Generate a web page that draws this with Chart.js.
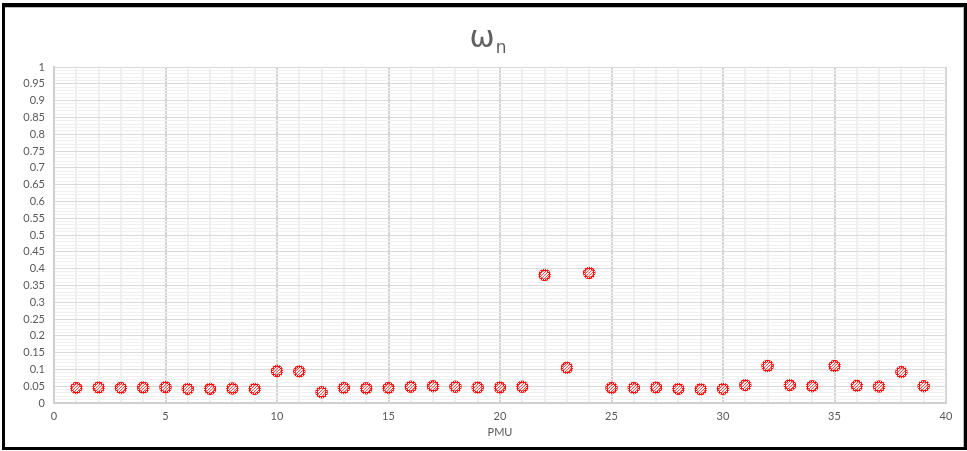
<!DOCTYPE html>
<html>
<head>
<meta charset="utf-8">
<script src="https://cdn.jsdelivr.net/npm/chart.js@4"></script>
<style>
html,body{margin:0;padding:0;background:#fff;}
#c{display:block;}
</style>
</head>
<body>
<canvas id="c" width="967" height="451"></canvas>
<script>
const pmu = [1,2,3,4,5,6,7,8,9,10,11,12,13,14,15,16,17,18,19,20,21,22,23,24,25,26,27,28,29,30,31,32,33,34,35,36,37,38,39];
const omegaN = [0.045,0.046,0.045,0.046,0.047,0.042,0.042,0.043,0.042,0.095,0.094,0.032,0.045,0.044,0.045,0.048,0.050,0.048,0.046,0.046,0.048,0.381,0.105,0.387,0.045,0.045,0.046,0.042,0.041,0.042,0.053,0.110,0.053,0.050,0.110,0.051,0.049,0.092,0.050];
const xTickLabels = ['0','5','10','15','20','25','30','35','40'];
const yTickLabels = ['0','0.05','0.1','0.15','0.2','0.25','0.3','0.35','0.4','0.45','0.5','0.55','0.6','0.65','0.7','0.75','0.8','0.85','0.9','0.95','1'];
const titleMain = 'ω';
const titleSub = 'n';
const xTitle = 'PMU';

const points = pmu.map((x, i) => ({x: x, y: omegaN[i]}));

// dotted red patterns for the hatched marker look
function makePattern(size, cells, color) {
  const pc = document.createElement('canvas');
  pc.width = size; pc.height = size;
  const p = pc.getContext('2d');
  p.fillStyle = color;
  cells.forEach(c => p.fillRect(c[0], c[1], 1, 1));
  return p.createPattern(pc, 'repeat');
}
const borderPat = makePattern(2, [[0,0],[1,1],[1,0]], 'rgba(255,0,0,0.95)');
const fillPat = makePattern(3, [[0,0],[2,1],[1,2]], 'rgba(255,40,40,0.8)');

const frame = {
  id: 'frame',
  beforeDraw(chart) {
    const ctx = chart.ctx;
    ctx.save();
    ctx.fillStyle = '#fff';
    ctx.fillRect(0, 0, chart.width, chart.height);
    ctx.restore();
  },
  afterDraw(chart) {
    const ctx = chart.ctx;
    ctx.save();
    // title
    ctx.fillStyle = '#5f5f5f';
    ctx.textBaseline = 'alphabetic';
    ctx.font = '30px "DejaVu Sans", sans-serif';
    const w1 = ctx.measureText(titleMain).width;
    ctx.font = '17px "DejaVu Sans", sans-serif';
    const w2 = ctx.measureText(titleSub).width;
    const x0 = 488 - (w1 + w2 + 1) / 2;
    ctx.font = '30px "DejaVu Sans", sans-serif';
    ctx.fillText(titleMain, x0, 47);
    ctx.font = '17px "DejaVu Sans", sans-serif';
    ctx.fillText(titleSub, x0 + w1 + 1, 53);
    // black frame
    ctx.fillStyle = '#000';
    ctx.fillRect(2, 3, 963, 4);
    ctx.fillRect(2, 3, 3, 447);
    ctx.fillRect(964, 3, 3, 447);
    ctx.fillRect(2, 447, 965, 3);
    ctx.fillStyle = '#bdbdbd';
    ctx.fillRect(5, 7, 959, 1);
    ctx.fillRect(963, 7, 1, 440);
    ctx.restore();
  }
};

const tickFont = {family: 'Lato, "Open Sans", sans-serif', size: 11};

new Chart(document.getElementById('c'), {
  type: 'scatter',
  data: {
    datasets: [{
      data: points,
      pointStyle: 'circle',
      pointRadius: 5,
      pointHoverRadius: 5,
      borderWidth: 2.5,
      borderColor: borderPat,
      backgroundColor: fillPat
    }]
  },
  plugins: [frame],
  options: {
    responsive: false,
    animation: false,
    devicePixelRatio: 1,
    layout: {padding: {left: 0, right: 21, top: 67, bottom: 0}},
    plugins: {legend: {display: false}, title: {display: false}, tooltip: {enabled: false}},
    scales: {
      x: {
        type: 'linear',
        min: 0, max: 40,
        afterFit(s) { s.height = 48; },
        border: {display: true, color: '#d0d0d0', width: 2},
        grid: {
          drawTicks: false,
          color: (c) => (c.tick && Math.round(c.tick.value) % 5 === 0) ? '#d4d4d4' : '#efefef',
          lineWidth: 2
        },
        ticks: {
          stepSize: 1, autoSkip: false, maxRotation: 0, padding: 7,
          color: '#595959', font: tickFont,
          callback: (v) => {
            const i = xTickLabels.indexOf(String(Math.round(v)));
            return (Math.round(v) % 5 === 0 && i >= 0) ? xTickLabels[i] : '';
          }
        },
        title: {display: true, text: xTitle, color: '#595959', font: {family: 'Lato, "Open Sans", sans-serif', size: 11}, padding: {top: 0, bottom: 12}}
      },
      y: {
        type: 'linear',
        min: 0, max: 1,
        afterFit(s) { s.width = 54; },
        border: {display: true, color: '#d0d0d0', width: 2},
        grid: {
          drawTicks: false,
          color: (c) => (c.tick && Math.round(c.tick.value * 100) % 5 === 0) ? '#d9d9d9' : '#f0f0f0',
          lineWidth: 1
        },
        ticks: {
          stepSize: 0.01, autoSkip: false, maxTicksLimit: 500, padding: 9,
          color: '#595959', font: tickFont,
          callback: (v) => {
            const k = Math.round(v * 100);
            return k % 5 === 0 ? yTickLabels[k / 5] : '';
          }
        }
      }
    }
  }
});
</script>
</body>
</html>
